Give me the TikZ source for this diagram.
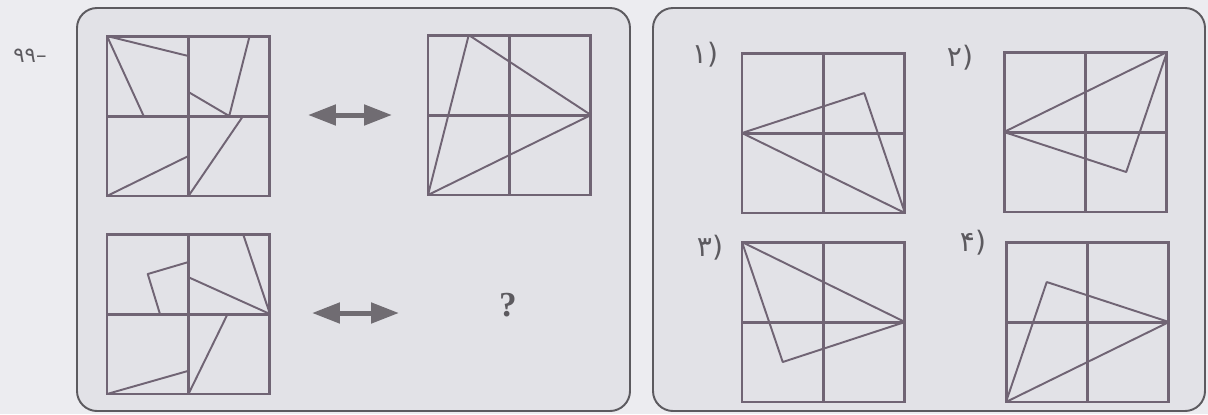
\documentclass[tikz,border=0pt]{standalone}
\usepackage{fontspec}
\usepackage{xcolor}
\usetikzlibrary{arrows.meta,positioning}
\newfontfamily\farsi{DejaVu Sans}
\newfontfamily\qfont{Liberation Serif}
\definecolor{paper}{RGB}{236,236,240}
\definecolor{panelbg}{RGB}{226,226,231}
\definecolor{rim}{RGB}{92,90,95}
\definecolor{ink}{RGB}{112,100,116}
\definecolor{arrowgray}{RGB}{112,108,114}
\newcommand{\qgrid}[3]{%
  \begin{scope}[shift={(#1,#2)},x=1.63cm,y=1.6cm]
    \draw[gridline] (0,0) rectangle (2,2) (1,0)--(1,2) (0,1)--(2,1);
    #3
  \end{scope}}

\begin{document}
\begin{tikzpicture}[
  x=0.02cm,y=0.02cm,
  every node/.style={inner sep=0pt,text=rim},
  panel/.style={draw=rim,line width=1.1pt,fill=panelbg,rounded corners=0.4cm},
  gridline/.style={draw=ink,line width=1.7pt},
  figline/.style={draw=ink,line width=1.1pt,line join=round},
  dbl/.style={arrowgray,line width=0.1cm,
    {Triangle[length=5.6mm,width=4mm]}-{Triangle[length=5.6mm,width=4mm]}},
  lbl/.style={font=\farsi\fontsize{16}{18}\selectfont}
]
\useasboundingbox[fill=paper] (0,0) rectangle (1208,414);
\draw[panel] (77,3) rectangle (630,406);
\draw[panel] (653,3) rectangle (1205,406);
\node[font=\farsi\fontsize{12}{14}\selectfont] (qno) at (30,358) {۹۹–};

\qgrid{107}{218}{
  \draw[figline] (1,1.75)--(0,2)--(0.45,1);
  \draw[figline] (1,1.3)--(1.5,1)--(1.75,2);
  \draw[figline] (1.67,1)--(1,0);
  \draw[figline] (0,0)--(1,0.5);
}
\qgrid{428}{219}{
  \draw[figline] (0,0)--(0.5,2)--(2,1)--cycle;
}
\qgrid{107}{20}{
  \draw[figline] (1,1.65)--(0.5,1.5)--(0.65,1);
  \draw[figline] (1,1.46)--(2,1)--(1.67,2);
  \draw[figline] (1.48,1)--(1,0);
  \draw[figline] (0,0)--(1,0.29);
}
\coordinate (ta1) at (308,299);
\coordinate (ta2) at (392,299);
\coordinate (ba1) at (312,101);
\coordinate (ba2) at (399,101);
\draw[dbl] (ta1)--(ta2);
\draw[dbl] (ba1)--(ba2);
\node[font=\qfont\bfseries\fontsize{20}{22}\selectfont] (qm) at (508,109) {?};

\node[lbl] (o1) at (705,359) {۱)};
\node[lbl] (o2) at (960,356) {۲)};
\node[lbl] (o3) at (710,166) {۳)};
\node[lbl] (o4) at (973,171) {۴)};
\qgrid{742}{201}{
  \draw[figline] (0,1)--(1.5,1.5)--(2,0)--cycle;
}
\qgrid{1004}{202}{
  \draw[figline] (0,1)--(2,2)--(1.5,0.5)--cycle;
}
\qgrid{742}{12}{
  \draw[figline] (0,2)--(2,1)--(0.5,0.5)--cycle;
}
\qgrid{1006}{12}{
  \draw[figline] (0,0)--(2,1)--(0.5,1.5)--cycle;
}
\end{tikzpicture}
\end{document}
